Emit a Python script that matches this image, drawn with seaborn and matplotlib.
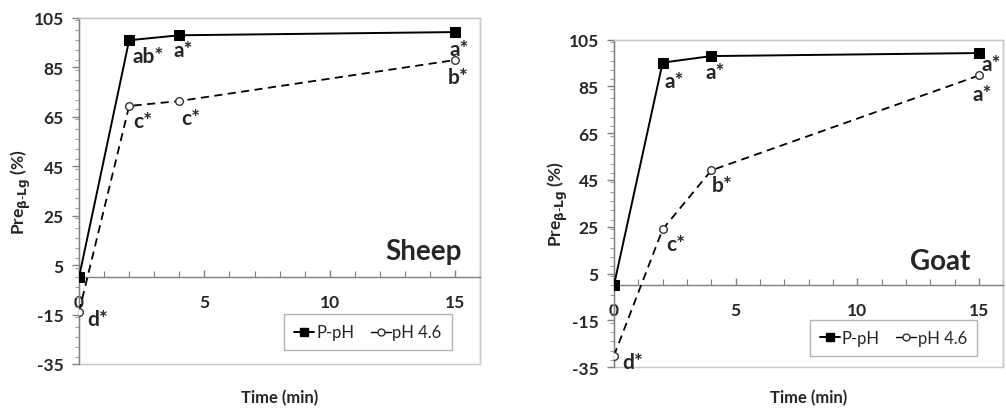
import matplotlib
matplotlib.use("Agg")
import matplotlib.pyplot as plt
from matplotlib.ticker import MultipleLocator
from matplotlib.lines import Line2D
from matplotlib.patches import Rectangle
import seaborn as sns
import pandas as pd

sns.set_theme(style="white")
plt.rcParams['font.family'] = ['Lato', 'DejaVu Sans']
plt.rcParams['mathtext.fontset'] = 'dejavusans'
plt.rcParams['axes.unicode_minus'] = False

time = [0, 2, 4, 15]
series_names = ["P-pH", "pH 4.6"]

sheep_ppH = [0.0, 96.0, 98.0, 99.3]
sheep_pH46 = [-14.0, 69.4, 71.4, 88.0]
goat_ppH = [0.0, 95.2, 98.0, 99.3]
goat_pH46 = [-30.2, 23.9, 49.1, 89.7]

sheep_ppH_labels = ["", "ab*", "a*", "a*"]
sheep_pH46_labels = ["d*", "c*", "c*", "b*"]
goat_ppH_labels = ["", "a*", "a*", "a*"]
goat_pH46_labels = ["d*", "c*", "b*", "a*"]

y_ticks = [-35, -15, 5, 25, 45, 65, 85, 105]
x_ticks = [0, 5, 10, 15]

# label offsets (pixels) for each point
sheep_ppH_off = [(0, 0), (19, -16), (4, -15), (4, -17)]
sheep_pH46_off = [(19, -7), (14, -15), (11, -17), (3, -17)]
goat_ppH_off = [(0, 0), (12, -18), (4, -16), (12, -11)]
goat_pH46_off = [(19, -6), (13, -15), (11, -15), (3, -19)]

fig = plt.figure(figsize=(10.06, 4.10), dpi=100)
ax1 = fig.add_axes([0.0785, 0.1098, 0.399, 0.8439])
ax2 = fig.add_axes([0.6103, 0.1024, 0.387, 0.7983])

ylabel = r'Pre$_{\mathbf{\beta}\text{-}\mathbf{Lg}}$ (%)'

def draw(ax, ppH, pH46, lab1, lab2, off1, off2, name, name_xy, leg_anchor):
    df = pd.DataFrame({
        "Time": time * 2,
        "val": ppH + pH46,
        "series": [series_names[0]] * 4 + [series_names[1]] * 4,
    })
    sns.lineplot(data=df[df.series == "P-pH"], x="Time", y="val", ax=ax,
                 color="black", lw=1.4, marker="s", markersize=6.5,
                 markerfacecolor="black", markeredgecolor="black", zorder=4)
    sns.lineplot(data=df[df.series == "pH 4.6"], x="Time", y="val", ax=ax,
                 color="black", lw=1.3, linestyle=(0, (4.5, 3)), marker="o", markersize=5.5,
                 markerfacecolor="white", markeredgecolor="#333333",
                 markeredgewidth=1.0, zorder=4)
    ax.set_xlim(0, 16)
    ax.set_ylim(-35, 105)
    ax.set_yticks(y_ticks)
    ax.set_xticks(x_ticks)
    ax.yaxis.set_minor_locator(MultipleLocator(4))
    ax.xaxis.set_minor_locator(MultipleLocator(1))
    ax.spines['bottom'].set_position(('data', 0))
    ax.spines['bottom'].set_color('#7f7f7f')
    ax.spines['left'].set_color('#7f7f7f')
    ax.spines['top'].set_color('#c8c8c8')
    ax.spines['right'].set_color('#c8c8c8')
    for s in ax.spines.values():
        s.set_linewidth(1.0)
    ax.add_patch(Rectangle((0, 0), 1, 1, transform=ax.transAxes, fill=False,
                           edgecolor='#c8c8c8', lw=1.0, clip_on=False, zorder=0))
    ax.tick_params(axis='y', which='major', direction='out', length=5, width=1,
                   color='#7f7f7f', labelsize=12.5, pad=6, left=True)
    ax.tick_params(axis='y', which='minor', direction='out', length=3, width=0.8,
                   color='#9f9f9f', left=True)
    ax.tick_params(axis='x', which='major', direction='in', length=5, width=1,
                   color='#7f7f7f', labelsize=12.5, pad=12, bottom=True)
    ax.tick_params(axis='x', which='minor', direction='in', length=4, width=0.8,
                   color='#7f7f7f', bottom=True)
    for t in ax.get_xticklabels() + ax.get_yticklabels():
        t.set_fontweight('bold')
    ax.set_xlabel("Time (min)", fontsize=12, fontweight='bold')
    ax.set_ylabel(ylabel, fontsize=12.5, fontweight='bold')
    for x, y, l, o in zip(time, ppH, lab1, off1):
        if l:
            ax.annotate(l, (x, y), xytext=o, textcoords='offset pixels',
                        ha='center', va='center', fontsize=15, fontweight='bold')
    for x, y, l, o in zip(time, pH46, lab2, off2):
        if l:
            ax.annotate(l, (x, y), xytext=o, textcoords='offset pixels',
                        ha='center', va='center', fontsize=15, fontweight='bold')
    ax.text(name_xy[0], name_xy[1], name, transform=ax.transAxes, ha='center',
            va='center', fontsize=20, fontweight='bold')
    handles = [
        Line2D([], [], color='black', lw=1.4, marker='s', markersize=6,
               markerfacecolor='black'),
        Line2D([], [], color='black', lw=1.0, marker='o', markersize=5,
               markerfacecolor='white', markeredgecolor='#333333'),
    ]
    leg = ax.legend(handles, series_names, loc='center', bbox_to_anchor=leg_anchor,
                    bbox_transform=ax.transAxes, ncol=2, fontsize=12,
                    handlelength=1.2, handletextpad=0.1, columnspacing=1.0,
                    frameon=True, fancybox=False, borderpad=0.6)
    leg.get_frame().set_edgecolor('#a0a0a0')
    leg.get_frame().set_linewidth(1.0)
    sns.despine(ax=ax, top=False, right=False)

draw(ax1, sheep_ppH, sheep_pH46, sheep_ppH_labels, sheep_pH46_labels,
     sheep_ppH_off, sheep_pH46_off, "Sheep", (0.858, 0.327), (0.72, 0.091))
draw(ax2, goat_ppH, goat_pH46, goat_ppH_labels, goat_pH46_labels,
     goat_ppH_off, goat_pH46_off, "Goat", (0.838, 0.324), (0.718, 0.089))

ax1.yaxis.set_label_coords(-0.115, 0.5)
ax2.yaxis.set_label_coords(-0.113, 0.5)
ax1.xaxis.set_label_coords(0.5, -0.072)
ax2.xaxis.set_label_coords(0.5, -0.067)

fig.savefig("out.png", dpi=100)
